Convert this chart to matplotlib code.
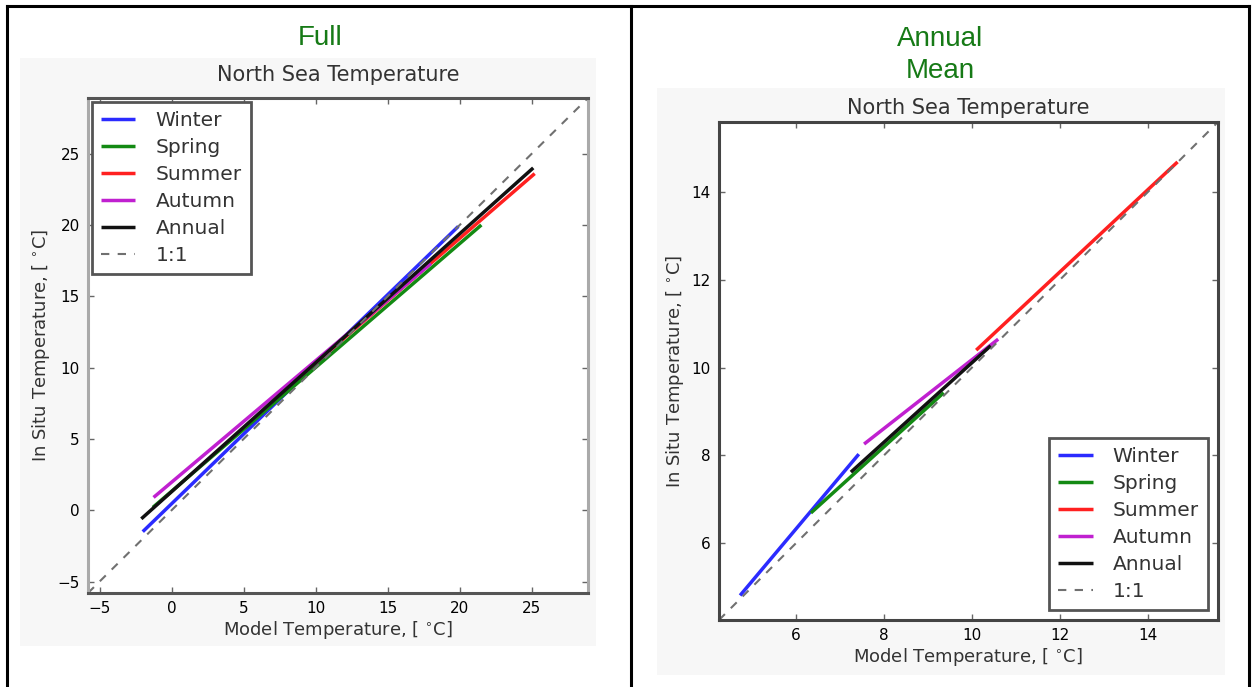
import matplotlib
matplotlib.use("Agg")
import matplotlib.pyplot as plt
from matplotlib.patches import Rectangle
from matplotlib.lines import Line2D

W, H = 1252, 687

# ── Data: regression line end points (model temp, in situ temp) ─────────────
seasons = ["Winter", "Spring", "Summer", "Autumn", "Annual"]
colors = ["#2b2bff", "#138a13", "#ff2020", "#c020d0", "#111111"]

full_x0 = [-2.0, -1.3, 8.0, -1.25, -2.1]
full_y0 = [-1.5, 0.2, 8.6, 0.9, -0.6]
full_x1 = [19.9, 21.5, 25.2, 18.0, 25.1]
full_y1 = [19.9, 20.0, 23.6, 17.3, 24.0]

mean_x0 = [4.73, 6.34, 10.1, 7.55, 7.25]
mean_y0 = [4.81, 6.69, 10.4, 8.26, 7.62]
mean_x1 = [7.43, 9.36, 14.68, 10.6, 10.43]
mean_y1 = [8.03, 9.43, 14.69, 10.65, 10.5]

full_lim = (-5.8, 28.9)
mean_lim = (4.25, 15.6)
full_ticks = [-5, 0, 5, 10, 15, 20, 25]
mean_ticks = [6, 8, 10, 12, 14]


def px_rect(x0, y0, x1, y1):
    """pixel box (top-left origin) -> figure fraction [l, b, w, h]"""
    return [x0 / W, 1 - y1 / H, (x1 - x0) / W, (y1 - y0) / H]


fig = plt.figure(figsize=(W / 100, H / 100), dpi=100)
fig.patch.set_facecolor("white")

# light grey backgrounds of the embedded plots
for box in [(20, 58, 596, 646), (657, 88, 1225, 675)]:
    l, b, w, h = px_rect(*box)
    fig.add_artist(Rectangle((l, b), w, h, transform=fig.transFigure,
                             facecolor="#f7f7f7", edgecolor="none", zorder=0))

# table borders
for xs, ys in [([7, 7], [6, H]), ([631, 631], [6, H]), ([1249, 1249], [6, H]),
               ([7, 1249], [6, 6])]:
    fig.add_artist(Line2D([x / W for x in xs], [1 - y / H for y in ys],
                          transform=fig.transFigure, color="black", lw=2.2))

fig.text(320 / W, 1 - 38 / H, "Full", color="#167a16", fontsize=20,
         family="Liberation Sans", ha="center", va="center")
fig.text(940 / W, 1 - 55 / H, "Annual\nMean", color="#167a16", fontsize=20,
         family="Liberation Sans", ha="center", va="center", linespacing=1.32)


def draw_panel(rect, x0, y0, x1, y1, lim, ticks, loc, side_col, tb_col, tpad, leg_pad):
    ax = fig.add_axes(px_rect(*rect))
    ax.set_facecolor("white")
    for i, name in enumerate(seasons):
        ax.plot([x0[i], x1[i]], [y0[i], y1[i]], color=colors[i], lw=2.5,
                label=name, solid_capstyle="butt")
    ax.plot(lim, lim, "--", color="#707070", lw=1.5, label="1:1", dashes=(4, 4))
    ax.set_xlim(lim)
    ax.set_ylim(lim)
    ax.set_xticks(ticks)
    ax.set_yticks(ticks)
    ax.tick_params(direction="in", length=4, width=1, labelsize=11,
                   top=True, right=True, color="#666666", pad=6)
    for s in ["left", "right"]:
        ax.spines[s].set_color(side_col)
        ax.spines[s].set_linewidth(2.2)
    for s in ["top", "bottom"]:
        ax.spines[s].set_color(tb_col)
        ax.spines[s].set_linewidth(2.2)
    ax.set_title("North Sea Temperature", fontsize=15, color="#333333", pad=tpad)
    ax.set_xlabel("Model Temperature, [ $^{\\circ}$C]", fontsize=13, color="#333333",
                  labelpad=2)
    ax.set_ylabel("In Situ Temperature, [ $^{\\circ}$C]", fontsize=13, color="#333333")
    leg = ax.legend(loc=loc, fontsize=14.5, fancybox=False, framealpha=1,
                    edgecolor="#555555", handlelength=1.7, labelspacing=0.4,
                    borderaxespad=leg_pad, handletextpad=1.0, borderpad=0.45)
    leg.get_frame().set_linewidth(2.0)
    for t in leg.get_texts():
        t.set_color("#333333")
    return ax


draw_panel((88, 98, 588, 593), full_x0, full_y0, full_x1, full_y1,
           full_lim, full_ticks, "upper left", "#aaaaaa", "#555555", 12, 0.2)
draw_panel((719, 122, 1218, 620), mean_x0, mean_y0, mean_x1, mean_y1,
           mean_lim, mean_ticks, "lower right", "#444444", "#444444", 6, 0.5)

fig.savefig("out.png", dpi=100)
